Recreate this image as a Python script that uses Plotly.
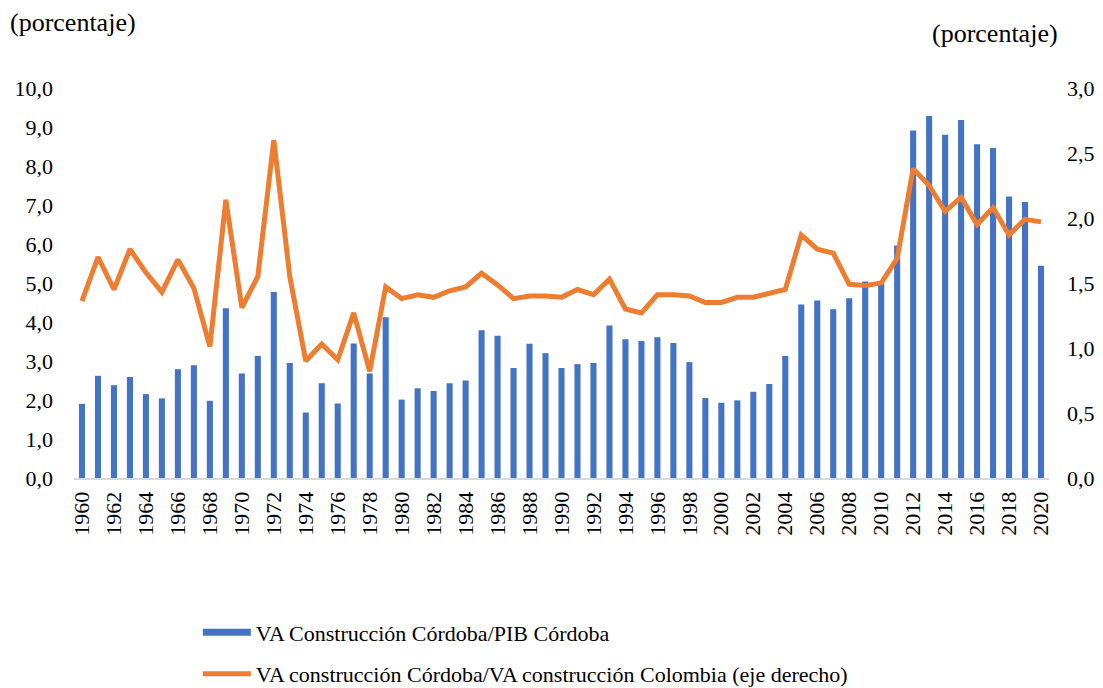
import plotly.graph_objects as go

years = list(range(1960, 2021))

va_pib_cordoba = [
    1.90, 2.62, 2.38, 2.59, 2.15, 2.04, 2.79, 2.89, 1.98, 4.35,
    2.68, 3.13, 4.77, 2.95, 1.68, 2.43, 1.91, 3.45, 2.68, 4.12,
    2.01, 2.30, 2.23, 2.43, 2.50, 3.79, 3.65, 2.82, 3.44, 3.20,
    2.82, 2.92, 2.95, 3.91, 3.56, 3.51, 3.61, 3.46, 2.97, 2.05,
    1.93, 1.99, 2.21, 2.41, 3.13, 4.45, 4.55, 4.33, 4.61, 5.04,
    4.99, 5.96, 8.91, 9.28, 8.80, 9.18, 8.56, 8.46, 7.22, 7.08,
    5.44,
]

va_cordoba_colombia = [
    1.36, 1.70, 1.45, 1.76, 1.58, 1.43, 1.68, 1.46, 1.01, 2.14,
    1.31, 1.55, 2.60, 1.55, 0.90, 1.03, 0.91, 1.27, 0.82, 1.47,
    1.38, 1.41, 1.39, 1.44, 1.47, 1.575, 1.485, 1.38, 1.40, 1.40,
    1.39, 1.45, 1.41, 1.53, 1.30, 1.27, 1.41, 1.41, 1.40, 1.35,
    1.35, 1.39, 1.39, 1.42, 1.45, 1.87, 1.76, 1.73, 1.49, 1.48,
    1.50, 1.69, 2.38, 2.25, 2.05, 2.16, 1.95, 2.08, 1.87, 1.99,
    1.97,
]

left_ticks = [0, 1, 2, 3, 4, 5, 6, 7, 8, 9, 10]
right_ticks = [0, 0.5, 1.0, 1.5, 2.0, 2.5, 3.0]
year_ticks = list(range(1960, 2021, 2))

name_bar = "VA Construcción Córdoba/PIB Córdoba"
name_line = "VA construcción Córdoba/VA construcción Colombia (eje derecho)"

BLUE = "#4472C4"
ORANGE = "#ED7D31"
FONT = "Times New Roman, Liberation Serif, serif"
tick_font = dict(family=FONT, size=22, color="black")

fig = go.Figure()
fig.add_trace(go.Bar(
    x=years, y=va_pib_cordoba, name=name_bar,
    marker=dict(color=BLUE, line=dict(width=0)),
    showlegend=False, yaxis="y",
))
# legend proxy for the bar series (wide flat swatch as in reference)
fig.add_trace(go.Scatter(
    x=[None], y=[None], mode="lines", name=name_bar,
    line=dict(color=BLUE, width=7), legendgroup="a", yaxis="y",
))
fig.add_trace(go.Scatter(
    x=years, y=va_cordoba_colombia, name=name_line, mode="lines",
    line=dict(color=ORANGE, width=5), legendgroup="b", yaxis="y2",
))

fig.update_layout(
    width=1103, height=688,
    margin=dict(l=66, r=62, t=80, b=218, autoexpand=False),
    paper_bgcolor="white", plot_bgcolor="white",
    separators=", ",
    font=dict(family=FONT, size=22, color="black"),
    bargap=0.62,
    showlegend=True,
    legend=dict(
        x=0.127, y=-0.342, xanchor="left", yanchor="top",
        orientation="v", traceorder="grouped", tracegroupgap=10,
        itemwidth=48, font=dict(family=FONT, size=22, color="black"),
        bgcolor="rgba(0,0,0,0)",
    ),
    xaxis=dict(
        range=[1959.5, 2020.5], tickmode="array", tickvals=year_ticks,
        ticktext=[str(y) for y in year_ticks], tickangle=-90,
        showgrid=False, zeroline=False, showline=True,
        linecolor="#D9D9D9", linewidth=2, ticks="",
        ticklabelstandoff=3, automargin=False,
        tickfont=tick_font,
    ),
    yaxis=dict(
        range=[0, 10], tickmode="array", tickvals=left_ticks,
        tickformat=".1f", showgrid=False, zeroline=False, showline=False,
        ticks="", ticklabelstandoff=20, automargin=False,
        tickfont=tick_font,
    ),
    yaxis2=dict(
        range=[0, 3], tickmode="array", tickvals=right_ticks,
        tickformat=".1f", overlaying="y", side="right",
        showgrid=False, zeroline=False, showline=False,
        ticks="", ticklabelstandoff=17, automargin=False,
        tickfont=tick_font,
    ),
    annotations=[
        dict(text="(porcentaje)", xref="paper", yref="paper",
             x=-0.0677, y=1.167, xanchor="left", yanchor="middle",
             showarrow=False, font=dict(family=FONT, size=26, color="black")),
        dict(text="(porcentaje)", xref="paper", yref="paper",
             x=1.0113, y=1.141, xanchor="right", yanchor="middle",
             showarrow=False, font=dict(family=FONT, size=26, color="black")),
    ],
)

fig.write_html("out.html")
